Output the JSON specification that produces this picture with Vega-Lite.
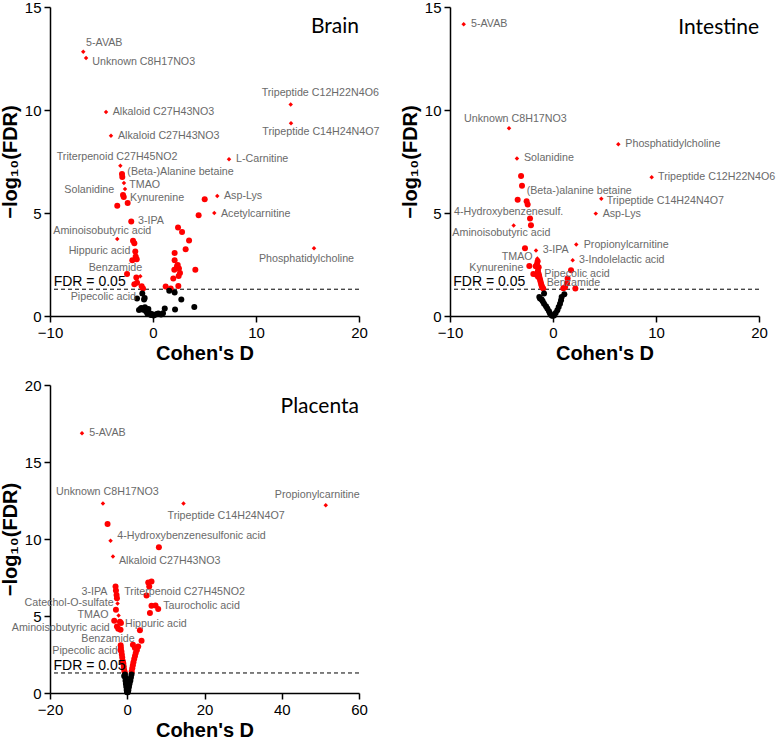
{
"$schema": "https://vega.github.io/schema/vega-lite/v6.json",
"padding": {"left": 0, "top": 0, "right": 0, "bottom": 0},
"config": {
 "view": {"stroke": null},
 "axis": {"grid": false, "domainColor": "#000", "domainWidth": 1.5, "tickColor": "#000", "tickWidth": 1.5, "tickSize": 6, "labelFont": "Liberation Sans", "labelFontSize": 15, "labelColor": "#000", "labelPadding": 3, "labelFlush": false, "titleFont": "Liberation Sans", "titleFontSize": 20, "titleFontWeight": "bold", "titleColor": "#000"},
 "axisX": {"titlePadding": 3},
 "axisY": {"titlePadding": 4}
},
"datasets": {
 "points": [
  {"panel":"Brain","d":-6.77,"fdr":12.83,"kind":"annotated"},
  {"panel":"Brain","d":-6.50,"fdr":12.52,"kind":"annotated"},
  {"panel":"Brain","d":13.37,"fdr":10.27,"kind":"annotated"},
  {"panel":"Brain","d":13.40,"fdr":9.36,"kind":"annotated"},
  {"panel":"Brain","d":-4.56,"fdr":9.90,"kind":"annotated"},
  {"panel":"Brain","d":-4.08,"fdr":8.75,"kind":"annotated"},
  {"panel":"Brain","d":7.38,"fdr":7.61,"kind":"annotated"},
  {"panel":"Brain","d":-3.17,"fdr":7.29,"kind":"annotated"},
  {"panel":"Brain","d":6.24,"fdr":5.82,"kind":"annotated"},
  {"panel":"Brain","d":5.95,"fdr":5.00,"kind":"annotated"},
  {"panel":"Brain","d":-3.47,"fdr":3.74,"kind":"annotated"},
  {"panel":"Brain","d":15.63,"fdr":3.29,"kind":"annotated"},
  {"panel":"Brain","d":-2.82,"fdr":6.46,"kind":"annotated"},
  {"panel":"Brain","d":-2.72,"fdr":6.16,"kind":"annotated"},
  {"panel":"Brain","d":-1.23,"fdr":1.93,"kind":"annotated"},
  {"panel":"Brain","d":-3.01,"fdr":6.89,"kind":"other"},
  {"panel":"Brain","d":-2.98,"fdr":6.75,"kind":"other"},
  {"panel":"Brain","d":-2.91,"fdr":5.87,"kind":"other"},
  {"panel":"Brain","d":-2.84,"fdr":5.78,"kind":"other"},
  {"panel":"Brain","d":-3.47,"fdr":5.35,"kind":"other"},
  {"panel":"Brain","d":-2.46,"fdr":5.48,"kind":"other"},
  {"panel":"Brain","d":-2.11,"fdr":4.59,"kind":"other"},
  {"panel":"Brain","d":-1.94,"fdr":3.65,"kind":"other"},
  {"panel":"Brain","d":-1.81,"fdr":3.53,"kind":"other"},
  {"panel":"Brain","d":-1.72,"fdr":3.13,"kind":"other"},
  {"panel":"Brain","d":-1.68,"fdr":2.89,"kind":"other"},
  {"panel":"Brain","d":-2.01,"fdr":2.71,"kind":"other"},
  {"panel":"Brain","d":-1.58,"fdr":2.76,"kind":"other"},
  {"panel":"Brain","d":-2.52,"fdr":2.04,"kind":"other"},
  {"panel":"Brain","d":-1.62,"fdr":1.87,"kind":"other"},
  {"panel":"Brain","d":-1.81,"fdr":1.54,"kind":"other"},
  {"panel":"Brain","d":-1.55,"fdr":1.62,"kind":"other"},
  {"panel":"Brain","d":-1.10,"fdr":1.44,"kind":"other"},
  {"panel":"Brain","d":-0.97,"fdr":1.33,"kind":"other"},
  {"panel":"Brain","d":1.23,"fdr":1.43,"kind":"other"},
  {"panel":"Brain","d":1.72,"fdr":1.34,"kind":"other"},
  {"panel":"Brain","d":2.46,"fdr":1.46,"kind":"other"},
  {"panel":"Brain","d":1.97,"fdr":1.82,"kind":"other"},
  {"panel":"Brain","d":2.49,"fdr":1.94,"kind":"other"},
  {"panel":"Brain","d":2.62,"fdr":2.09,"kind":"other"},
  {"panel":"Brain","d":2.07,"fdr":2.24,"kind":"other"},
  {"panel":"Brain","d":2.52,"fdr":2.30,"kind":"other"},
  {"panel":"Brain","d":2.40,"fdr":2.48,"kind":"other"},
  {"panel":"Brain","d":2.33,"fdr":2.41,"kind":"other"},
  {"panel":"Brain","d":2.10,"fdr":2.71,"kind":"other"},
  {"panel":"Brain","d":4.11,"fdr":2.25,"kind":"other"},
  {"panel":"Brain","d":2.10,"fdr":3.06,"kind":"other"},
  {"panel":"Brain","d":3.17,"fdr":3.24,"kind":"other"},
  {"panel":"Brain","d":3.50,"fdr":3.66,"kind":"other"},
  {"panel":"Brain","d":2.82,"fdr":4.08,"kind":"other"},
  {"panel":"Brain","d":2.43,"fdr":4.30,"kind":"other"},
  {"panel":"Brain","d":4.43,"fdr":4.89,"kind":"other"},
  {"panel":"Brain","d":5.02,"fdr":5.67,"kind":"other"},
  {"panel":"Brain","d":-1.04,"fdr":1.09,"kind":"other"},
  {"panel":"Brain","d":-0.81,"fdr":0.87,"kind":"other"},
  {"panel":"Brain","d":-0.87,"fdr":0.80,"kind":"other"},
  {"panel":"Brain","d":-1.55,"fdr":0.85,"kind":"other"},
  {"panel":"Brain","d":-1.36,"fdr":0.29,"kind":"other"},
  {"panel":"Brain","d":-1.13,"fdr":0.39,"kind":"other"},
  {"panel":"Brain","d":-0.78,"fdr":0.42,"kind":"other"},
  {"panel":"Brain","d":-0.45,"fdr":0.34,"kind":"other"},
  {"panel":"Brain","d":-0.68,"fdr":0.23,"kind":"other"},
  {"panel":"Brain","d":-0.55,"fdr":0.12,"kind":"other"},
  {"panel":"Brain","d":-0.32,"fdr":0.13,"kind":"other"},
  {"panel":"Brain","d":-0.13,"fdr":0.10,"kind":"other"},
  {"panel":"Brain","d":0.06,"fdr":0.02,"kind":"other"},
  {"panel":"Brain","d":0.26,"fdr":0.07,"kind":"other"},
  {"panel":"Brain","d":0.51,"fdr":0.12,"kind":"other"},
  {"panel":"Brain","d":0.78,"fdr":0.07,"kind":"other"},
  {"panel":"Brain","d":0.97,"fdr":0.13,"kind":"other"},
  {"panel":"Brain","d":1.14,"fdr":0.36,"kind":"other"},
  {"panel":"Brain","d":1.58,"fdr":1.23,"kind":"other"},
  {"panel":"Brain","d":2.10,"fdr":1.14,"kind":"other"},
  {"panel":"Brain","d":2.75,"fdr":0.80,"kind":"other"},
  {"panel":"Brain","d":2.14,"fdr":0.31,"kind":"other"},
  {"panel":"Brain","d":4.01,"fdr":0.44,"kind":"other"},
  {"panel":"Brain","d":-1.20,"fdr":0.35,"kind":"other"},
  {"panel":"Brain","d":-0.95,"fdr":0.30,"kind":"other"},
  {"panel":"Brain","d":-0.20,"fdr":0.05,"kind":"other"},
  {"panel":"Brain","d":0.40,"fdr":0.10,"kind":"other"},

  {"panel":"Intestine","d":-8.67,"fdr":14.16,"kind":"annotated"},
  {"panel":"Intestine","d":-4.27,"fdr":9.11,"kind":"annotated"},
  {"panel":"Intestine","d":6.34,"fdr":8.34,"kind":"annotated"},
  {"panel":"Intestine","d":-3.50,"fdr":7.65,"kind":"annotated"},
  {"panel":"Intestine","d":9.58,"fdr":6.74,"kind":"annotated"},
  {"panel":"Intestine","d":4.69,"fdr":5.69,"kind":"annotated"},
  {"panel":"Intestine","d":4.15,"fdr":4.97,"kind":"annotated"},
  {"panel":"Intestine","d":-3.82,"fdr":4.39,"kind":"annotated"},
  {"panel":"Intestine","d":2.26,"fdr":3.47,"kind":"annotated"},
  {"panel":"Intestine","d":-1.65,"fdr":3.18,"kind":"annotated"},
  {"panel":"Intestine","d":1.91,"fdr":2.71,"kind":"annotated"},
  {"panel":"Intestine","d":-1.52,"fdr":2.79,"kind":"annotated"},
  {"panel":"Intestine","d":-3.10,"fdr":6.80,"kind":"other"},
  {"panel":"Intestine","d":-3.01,"fdr":6.32,"kind":"other"},
  {"panel":"Intestine","d":-3.43,"fdr":5.64,"kind":"other"},
  {"panel":"Intestine","d":-2.56,"fdr":5.57,"kind":"other"},
  {"panel":"Intestine","d":-2.46,"fdr":5.41,"kind":"other"},
  {"panel":"Intestine","d":-2.23,"fdr":4.73,"kind":"other"},
  {"panel":"Intestine","d":-2.14,"fdr":4.41,"kind":"other"},
  {"panel":"Intestine","d":-2.72,"fdr":3.29,"kind":"other"},
  {"panel":"Intestine","d":-1.49,"fdr":2.66,"kind":"other"},
  {"panel":"Intestine","d":-1.55,"fdr":2.53,"kind":"other"},
  {"panel":"Intestine","d":-1.68,"fdr":2.41,"kind":"other"},
  {"panel":"Intestine","d":-1.39,"fdr":2.37,"kind":"other"},
  {"panel":"Intestine","d":-2.30,"fdr":2.43,"kind":"other"},
  {"panel":"Intestine","d":-1.91,"fdr":2.04,"kind":"other"},
  {"panel":"Intestine","d":1.75,"fdr":2.22,"kind":"other"},
  {"panel":"Intestine","d":1.42,"fdr":1.82,"kind":"other"},
  {"panel":"Intestine","d":2.17,"fdr":1.33,"kind":"other"},
  {"panel":"Intestine","d":-1.46,"fdr":2.20,"kind":"other"},
  {"panel":"Intestine","d":-1.40,"fdr":2.05,"kind":"other"},
  {"panel":"Intestine","d":-1.35,"fdr":1.95,"kind":"other"},
  {"panel":"Intestine","d":-1.30,"fdr":1.85,"kind":"other"},
  {"panel":"Intestine","d":-1.25,"fdr":1.75,"kind":"other"},
  {"panel":"Intestine","d":-1.20,"fdr":1.65,"kind":"other"},
  {"panel":"Intestine","d":-1.15,"fdr":1.55,"kind":"other"},
  {"panel":"Intestine","d":-1.10,"fdr":1.47,"kind":"other"},
  {"panel":"Intestine","d":-1.05,"fdr":1.40,"kind":"other"},
  {"panel":"Intestine","d":-0.95,"fdr":1.33,"kind":"other"},
  {"panel":"Intestine","d":-1.50,"fdr":2.10,"kind":"other"},
  {"panel":"Intestine","d":-1.45,"fdr":1.90,"kind":"other"},
  {"panel":"Intestine","d":-1.60,"fdr":2.00,"kind":"other"},
  {"panel":"Intestine","d":1.17,"fdr":1.40,"kind":"other"},
  {"panel":"Intestine","d":1.36,"fdr":1.58,"kind":"other"},
  {"panel":"Intestine","d":1.00,"fdr":1.35,"kind":"other"},
  {"panel":"Intestine","d":-1.33,"fdr":0.92,"kind":"other"},
  {"panel":"Intestine","d":-1.26,"fdr":0.85,"kind":"other"},
  {"panel":"Intestine","d":-0.87,"fdr":1.09,"kind":"other"},
  {"panel":"Intestine","d":-1.10,"fdr":0.80,"kind":"other"},
  {"panel":"Intestine","d":-1.00,"fdr":0.71,"kind":"other"},
  {"panel":"Intestine","d":-0.87,"fdr":0.60,"kind":"other"},
  {"panel":"Intestine","d":-0.68,"fdr":0.47,"kind":"other"},
  {"panel":"Intestine","d":-0.55,"fdr":0.36,"kind":"other"},
  {"panel":"Intestine","d":-0.39,"fdr":0.23,"kind":"other"},
  {"panel":"Intestine","d":-0.29,"fdr":0.12,"kind":"other"},
  {"panel":"Intestine","d":-0.13,"fdr":0.03,"kind":"other"},
  {"panel":"Intestine","d":-0.05,"fdr":0.01,"kind":"other"},
  {"panel":"Intestine","d":0.10,"fdr":0.03,"kind":"other"},
  {"panel":"Intestine","d":0.26,"fdr":0.15,"kind":"other"},
  {"panel":"Intestine","d":0.42,"fdr":0.28,"kind":"other"},
  {"panel":"Intestine","d":0.55,"fdr":0.44,"kind":"other"},
  {"panel":"Intestine","d":0.68,"fdr":0.60,"kind":"other"},
  {"panel":"Intestine","d":0.78,"fdr":0.76,"kind":"other"},
  {"panel":"Intestine","d":0.84,"fdr":0.92,"kind":"other"},
  {"panel":"Intestine","d":1.10,"fdr":1.05,"kind":"other"},

  {"panel":"Placenta","d":-11.72,"fdr":16.86,"kind":"annotated"},
  {"panel":"Placenta","d":-6.29,"fdr":12.30,"kind":"annotated"},
  {"panel":"Placenta","d":14.56,"fdr":12.30,"kind":"annotated"},
  {"panel":"Placenta","d":51.39,"fdr":12.19,"kind":"annotated"},
  {"panel":"Placenta","d":-4.32,"fdr":9.88,"kind":"annotated"},
  {"panel":"Placenta","d":-3.70,"fdr":8.86,"kind":"annotated"},
  {"panel":"Placenta","d":-2.51,"fdr":5.81,"kind":"annotated"},
  {"panel":"Placenta","d":-2.24,"fdr":5.03,"kind":"annotated"},
  {"panel":"Placenta","d":-5.10,"fdr":10.98,"kind":"other"},
  {"panel":"Placenta","d":8.19,"fdr":9.47,"kind":"other"},
  {"panel":"Placenta","d":-3.03,"fdr":6.91,"kind":"other"},
  {"panel":"Placenta","d":-2.93,"fdr":6.65,"kind":"other"},
  {"panel":"Placenta","d":-2.77,"fdr":6.37,"kind":"other"},
  {"panel":"Placenta","d":-2.67,"fdr":6.16,"kind":"other"},
  {"panel":"Placenta","d":-2.93,"fdr":5.40,"kind":"other"},
  {"panel":"Placenta","d":-3.37,"fdr":4.69,"kind":"other"},
  {"panel":"Placenta","d":-1.90,"fdr":4.62,"kind":"other"},
  {"panel":"Placenta","d":-1.63,"fdr":4.54,"kind":"other"},
  {"panel":"Placenta","d":-2.67,"fdr":4.32,"kind":"other"},
  {"panel":"Placenta","d":-2.33,"fdr":4.17,"kind":"other"},
  {"panel":"Placenta","d":-1.74,"fdr":4.10,"kind":"other"},
  {"panel":"Placenta","d":3.28,"fdr":4.08,"kind":"other"},
  {"panel":"Placenta","d":3.70,"fdr":3.39,"kind":"other"},
  {"panel":"Placenta","d":5.43,"fdr":7.17,"kind":"other"},
  {"panel":"Placenta","d":6.28,"fdr":7.24,"kind":"other"},
  {"panel":"Placenta","d":5.69,"fdr":6.91,"kind":"other"},
  {"panel":"Placenta","d":4.99,"fdr":6.33,"kind":"other"},
  {"panel":"Placenta","d":6.28,"fdr":5.66,"kind":"other"},
  {"panel":"Placenta","d":7.32,"fdr":5.68,"kind":"other"},
  {"panel":"Placenta","d":8.01,"fdr":5.45,"kind":"other"},
  {"panel":"Placenta","d":5.87,"fdr":5.19,"kind":"other"},
  {"panel":"Placenta","d":-1.63,"fdr":2.92,"kind":"other"},
  {"panel":"Placenta","d":-1.50,"fdr":2.70,"kind":"other"},
  {"panel":"Placenta","d":-1.40,"fdr":2.50,"kind":"other"},
  {"panel":"Placenta","d":-1.30,"fdr":2.30,"kind":"other"},
  {"panel":"Placenta","d":-1.20,"fdr":2.10,"kind":"other"},
  {"panel":"Placenta","d":-1.00,"fdr":1.90,"kind":"other"},
  {"panel":"Placenta","d":-0.90,"fdr":1.70,"kind":"other"},
  {"panel":"Placenta","d":-0.80,"fdr":1.50,"kind":"other"},
  {"panel":"Placenta","d":-0.65,"fdr":1.35,"kind":"other"},
  {"panel":"Placenta","d":-1.70,"fdr":3.10,"kind":"other"},
  {"panel":"Placenta","d":-1.75,"fdr":2.80,"kind":"other"},
  {"panel":"Placenta","d":-1.10,"fdr":2.00,"kind":"other"},
  {"panel":"Placenta","d":2.84,"fdr":3.02,"kind":"other"},
  {"panel":"Placenta","d":2.50,"fdr":2.80,"kind":"other"},
  {"panel":"Placenta","d":2.20,"fdr":2.60,"kind":"other"},
  {"panel":"Placenta","d":2.00,"fdr":2.40,"kind":"other"},
  {"panel":"Placenta","d":1.80,"fdr":2.20,"kind":"other"},
  {"panel":"Placenta","d":1.60,"fdr":2.00,"kind":"other"},
  {"panel":"Placenta","d":1.45,"fdr":1.80,"kind":"other"},
  {"panel":"Placenta","d":1.30,"fdr":1.60,"kind":"other"},
  {"panel":"Placenta","d":1.15,"fdr":1.40,"kind":"other"},
  {"panel":"Placenta","d":1.47,"fdr":3.13,"kind":"other"},
  {"panel":"Placenta","d":1.99,"fdr":2.92,"kind":"other"},
  {"panel":"Placenta","d":-0.60,"fdr":1.20,"kind":"other"},
  {"panel":"Placenta","d":-0.80,"fdr":1.10,"kind":"other"},
  {"panel":"Placenta","d":-0.50,"fdr":1.00,"kind":"other"},
  {"panel":"Placenta","d":-0.45,"fdr":0.80,"kind":"other"},
  {"panel":"Placenta","d":-0.35,"fdr":0.60,"kind":"other"},
  {"panel":"Placenta","d":-0.25,"fdr":0.40,"kind":"other"},
  {"panel":"Placenta","d":-0.15,"fdr":0.20,"kind":"other"},
  {"panel":"Placenta","d":-0.05,"fdr":0.05,"kind":"other"},
  {"panel":"Placenta","d":1.10,"fdr":1.20,"kind":"other"},
  {"panel":"Placenta","d":0.95,"fdr":1.00,"kind":"other"},
  {"panel":"Placenta","d":0.80,"fdr":0.80,"kind":"other"},
  {"panel":"Placenta","d":0.60,"fdr":0.60,"kind":"other"},
  {"panel":"Placenta","d":0.45,"fdr":0.40,"kind":"other"},
  {"panel":"Placenta","d":0.30,"fdr":0.20,"kind":"other"},
  {"panel":"Placenta","d":0.15,"fdr":0.05,"kind":"other"}
 ],
 "labels": [
  {"panel":"Brain","label":"5-AVAB","d":-6.50,"fdr":13.27},
  {"panel":"Brain","label":"Unknown C8H17NO3","d":-5.89,"fdr":12.31},
  {"panel":"Brain","label":"Tripeptide C12H22N4O6","d":10.55,"fdr":10.81},
  {"panel":"Brain","label":"Tripeptide C14H24N4O7","d":10.61,"fdr":8.93},
  {"panel":"Brain","label":"Alkaloid C27H43NO3","d":-3.91,"fdr":9.88},
  {"panel":"Brain","label":"Alkaloid C27H43NO3","d":-3.40,"fdr":8.75},
  {"panel":"Brain","label":"Triterpenoid C27H45NO2","d":-9.35,"fdr":7.73},
  {"panel":"Brain","label":"L-Carnitine","d":8.06,"fdr":7.61},
  {"panel":"Brain","label":"(Beta-)Alanine betaine","d":-2.49,"fdr":7.00},
  {"panel":"Brain","label":"TMAO","d":-2.30,"fdr":6.35},
  {"panel":"Brain","label":"Solanidine","d":-8.61,"fdr":6.11},
  {"panel":"Brain","label":"Kynurenine","d":-2.23,"fdr":5.73},
  {"panel":"Brain","label":"Asp-Lys","d":6.89,"fdr":5.83},
  {"panel":"Brain","label":"Acetylcarnitine","d":6.60,"fdr":4.93},
  {"panel":"Brain","label":"3-IPA","d":-1.46,"fdr":4.60},
  {"panel":"Brain","label":"Aminoisobutyric acid","d":-9.68,"fdr":4.13},
  {"panel":"Brain","label":"Hippuric acid","d":-8.19,"fdr":3.16},
  {"panel":"Brain","label":"Benzamide","d":-6.24,"fdr":2.35},
  {"panel":"Brain","label":"Phosphatidylcholine","d":10.29,"fdr":2.76},
  {"panel":"Brain","label":"Pipecolic acid","d":-7.99,"fdr":0.92},
  {"panel":"Intestine","label":"5-AVAB","d":-7.96,"fdr":14.16},
  {"panel":"Intestine","label":"Unknown C8H17NO3","d":-8.64,"fdr":9.56},
  {"panel":"Intestine","label":"Phosphatidylcholine","d":7.02,"fdr":8.34},
  {"panel":"Intestine","label":"Solanidine","d":-2.82,"fdr":7.65},
  {"panel":"Intestine","label":"Tripeptide C12H22N4O6","d":10.20,"fdr":6.74},
  {"panel":"Intestine","label":"(Beta-)alanine betaine","d":-2.56,"fdr":6.06},
  {"panel":"Intestine","label":"Tripeptide C14H24N4O7","d":5.21,"fdr":5.59},
  {"panel":"Intestine","label":"Asp-Lys","d":4.82,"fdr":4.97},
  {"panel":"Intestine","label":"4-Hydroxybenzenesulf.","d":-9.61,"fdr":5.05},
  {"panel":"Intestine","label":"Aminoisobutyric acid","d":-9.77,"fdr":4.03},
  {"panel":"Intestine","label":"Propionylcarnitine","d":2.98,"fdr":3.47},
  {"panel":"Intestine","label":"3-IPA","d":-1.00,"fdr":3.19},
  {"panel":"Intestine","label":"TMAO","d":-4.98,"fdr":2.87},
  {"panel":"Intestine","label":"3-Indolelactic acid","d":2.52,"fdr":2.71},
  {"panel":"Intestine","label":"Kynurenine","d":-8.13,"fdr":2.33},
  {"panel":"Intestine","label":"Pipecolic acid","d":-0.84,"fdr":2.06},
  {"panel":"Intestine","label":"Benzamide","d":-0.61,"fdr":1.59},
  {"panel":"Placenta","label":"5-AVAB","d":-9.83,"fdr":16.86},
  {"panel":"Placenta","label":"Unknown C8H17NO3","d":-18.45,"fdr":13.04},
  {"panel":"Placenta","label":"Tripeptide C14H24N4O7","d":10.42,"fdr":11.50},
  {"panel":"Placenta","label":"Propionylcarnitine","d":38.20,"fdr":12.84},
  {"panel":"Placenta","label":"4-Hydroxybenzenesulfonic acid","d":-2.59,"fdr":10.20},
  {"panel":"Placenta","label":"Alkaloid C27H43NO3","d":-2.15,"fdr":8.60},
  {"panel":"Placenta","label":"3-IPA","d":-11.83,"fdr":6.55},
  {"panel":"Placenta","label":"Triterpenoid C27H45NO2","d":-0.78,"fdr":6.55},
  {"panel":"Placenta","label":"Catechol-O-sulfate","d":-26.6,"fdr":5.84},
  {"panel":"Placenta","label":"Taurocholic acid","d":9.31,"fdr":5.68},
  {"panel":"Placenta","label":"TMAO","d":-12.86,"fdr":5.08},
  {"panel":"Placenta","label":"Hippuric acid","d":-0.60,"fdr":4.49},
  {"panel":"Placenta","label":"Aminoisobutyric acid","d":-29.9,"fdr":4.23},
  {"panel":"Placenta","label":"Benzamide","d":-11.90,"fdr":3.52},
  {"panel":"Placenta","label":"Pipecolic acid","d":-19.4,"fdr":2.70}
 ]
},
"spacing": 15,
"vconcat": [
 {
  "bounds": "flush",
  "spacing": 91,
  "hconcat": [
   {
    "width": 309, "height": 309,
    "layer": [
     {"data": {"values": [{}]}, "mark": {"type": "rule", "strokeDash": [4, 3], "color": "#000", "strokeWidth": 1}, "encoding": {"y": {"datum": 1.3, "type": "quantitative"}}},
     {"data": {"name": "points"}, "transform": [{"filter": "datum.panel === 'Brain'"}],
      "mark": {"type": "point", "filled": true, "opacity": 1},
      "encoding": {
       "x": {"field": "d", "type": "quantitative", "scale": {"domain": [-10, 20], "nice": false, "zero": false}, "axis": {"values": [-10, 0, 10, 20], "title": "Cohen's D"}},
       "y": {"field": "fdr", "type": "quantitative", "scale": {"domain": [0, 15], "nice": false}, "axis": {"values": [0, 5, 10, 15], "title": "−log₁₀(FDR)"}},
       "shape": {"field": "kind", "type": "nominal", "scale": {"domain": ["annotated", "other"], "range": ["diamond", "circle"]}, "legend": null},
       "size": {"field": "kind", "type": "nominal", "scale": {"domain": ["annotated", "other"], "range": [20, 36]}, "legend": null},
       "color": {"condition": {"test": "datum.fdr > 1.30103", "value": "#ff0000"}, "value": "#000000"}
      }},
     {"data": {"name": "labels"}, "transform": [{"filter": "datum.panel === 'Brain'"}],
      "mark": {"type": "text", "align": "left", "baseline": "middle", "font": "Liberation Sans", "fontSize": 10.7, "color": "#6a6a6a"},
      "encoding": {"x": {"field": "d", "type": "quantitative"}, "y": {"field": "fdr", "type": "quantitative"}, "text": {"field": "label"}}},
     {"data": {"values": [{}]}, "mark": {"type": "text", "align": "left", "baseline": "middle", "font": "Liberation Sans", "fontSize": 14, "color": "#000", "text": "FDR = 0.05"},
      "encoding": {"x": {"datum": -9.64, "type": "quantitative"}, "y": {"datum": 1.65, "type": "quantitative"}}},
     {"data": {"values": [{}]}, "mark": {"type": "text", "align": "right", "baseline": "alphabetic", "font": "Lato", "fontSize": 21, "color": "#000", "text": "Brain"},
      "encoding": {"x": {"datum": 20, "type": "quantitative"}, "y": {"datum": 13.74, "type": "quantitative"}}}
    ]
   },
   {
    "width": 309, "height": 309,
    "layer": [
     {"data": {"values": [{}]}, "mark": {"type": "rule", "strokeDash": [4, 3], "color": "#000", "strokeWidth": 1}, "encoding": {"y": {"datum": 1.3, "type": "quantitative"}}},
     {"data": {"name": "points"}, "transform": [{"filter": "datum.panel === 'Intestine'"}],
      "mark": {"type": "point", "filled": true, "opacity": 1},
      "encoding": {
       "x": {"field": "d", "type": "quantitative", "scale": {"domain": [-10, 20], "nice": false, "zero": false}, "axis": {"values": [-10, 0, 10, 20], "title": "Cohen's D"}},
       "y": {"field": "fdr", "type": "quantitative", "scale": {"domain": [0, 15], "nice": false}, "axis": {"values": [0, 5, 10, 15], "title": "−log₁₀(FDR)"}},
       "shape": {"field": "kind", "type": "nominal", "scale": {"domain": ["annotated", "other"], "range": ["diamond", "circle"]}, "legend": null},
       "size": {"field": "kind", "type": "nominal", "scale": {"domain": ["annotated", "other"], "range": [20, 36]}, "legend": null},
       "color": {"condition": {"test": "datum.fdr > 1.30103", "value": "#ff0000"}, "value": "#000000"}
      }},
     {"data": {"name": "labels"}, "transform": [{"filter": "datum.panel === 'Intestine'"}],
      "mark": {"type": "text", "align": "left", "baseline": "middle", "font": "Liberation Sans", "fontSize": 10.7, "color": "#6a6a6a"},
      "encoding": {"x": {"field": "d", "type": "quantitative"}, "y": {"field": "fdr", "type": "quantitative"}, "text": {"field": "label"}}},
     {"data": {"values": [{}]}, "mark": {"type": "text", "align": "left", "baseline": "middle", "font": "Liberation Sans", "fontSize": 14, "color": "#000", "text": "FDR = 0.05"},
      "encoding": {"x": {"datum": -9.68, "type": "quantitative"}, "y": {"datum": 1.65, "type": "quantitative"}}},
     {"data": {"values": [{}]}, "mark": {"type": "text", "align": "right", "baseline": "alphabetic", "font": "Lato", "fontSize": 21, "color": "#000", "text": "Intestine"},
      "encoding": {"x": {"datum": 20, "type": "quantitative"}, "y": {"datum": 13.67, "type": "quantitative"}}}
    ]
   }
  ]
 },
 {
  "width": 309, "height": 308,
  "layer": [
   {"data": {"values": [{}]}, "mark": {"type": "rule", "strokeDash": [4, 3], "color": "#000", "strokeWidth": 1}, "encoding": {"y": {"datum": 1.3, "type": "quantitative"}}},
   {"data": {"name": "points"}, "transform": [{"filter": "datum.panel === 'Placenta'"}],
    "mark": {"type": "point", "filled": true, "opacity": 1},
    "encoding": {
     "x": {"field": "d", "type": "quantitative", "scale": {"domain": [-20, 60], "nice": false, "zero": false}, "axis": {"values": [-20, 0, 20, 40, 60], "title": "Cohen's D"}},
     "y": {"field": "fdr", "type": "quantitative", "scale": {"domain": [0, 20], "nice": false}, "axis": {"values": [0, 5, 10, 15, 20], "title": "−log₁₀(FDR)"}},
     "shape": {"field": "kind", "type": "nominal", "scale": {"domain": ["annotated", "other"], "range": ["diamond", "circle"]}, "legend": null},
     "size": {"field": "kind", "type": "nominal", "scale": {"domain": ["annotated", "other"], "range": [20, 36]}, "legend": null},
     "color": {"condition": {"test": "datum.fdr > 1.30103", "value": "#ff0000"}, "value": "#000000"}
    }},
   {"data": {"name": "labels"}, "transform": [{"filter": "datum.panel === 'Placenta'"}],
    "mark": {"type": "text", "align": "left", "baseline": "middle", "font": "Liberation Sans", "fontSize": 10.7, "color": "#6a6a6a"},
    "encoding": {"x": {"field": "d", "type": "quantitative"}, "y": {"field": "fdr", "type": "quantitative"}, "text": {"field": "label"}}},
   {"data": {"values": [{}]}, "mark": {"type": "text", "align": "left", "baseline": "middle", "font": "Liberation Sans", "fontSize": 14, "color": "#000", "text": "FDR = 0.05"},
    "encoding": {"x": {"datum": -19.1, "type": "quantitative"}, "y": {"datum": 1.77, "type": "quantitative"}}},
   {"data": {"values": [{}]}, "mark": {"type": "text", "align": "right", "baseline": "alphabetic", "font": "Lato", "fontSize": 21, "color": "#000", "text": "Placenta"},
    "encoding": {"x": {"datum": 60, "type": "quantitative"}, "y": {"datum": 18.16, "type": "quantitative"}}}
  ]
 }
]
}
